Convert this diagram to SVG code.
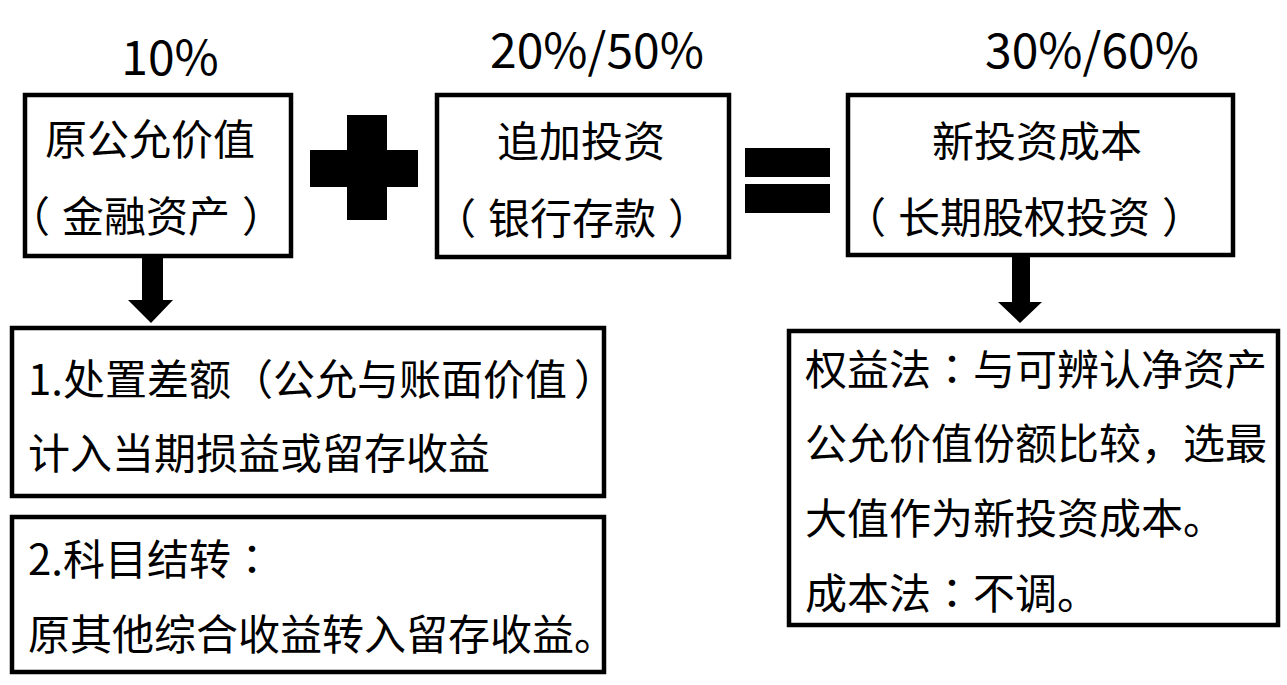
<svg xmlns="http://www.w3.org/2000/svg" width="1287" height="685" viewBox="0 0 1287 685">
  <style>
    .box { fill: #ffffff; stroke: #000000; stroke-width: 4.5; }
    .t { font-family: "Noto Sans CJK SC", "Liberation Sans", sans-serif; font-size: 42px; fill: #000000; }
    .p { font-family: "Noto Sans CJK TC", "Noto Sans CJK SC", sans-serif; }
    .c { text-anchor: middle; }
    .pct { font-family: "Noto Sans CJK SC", "Liberation Sans", sans-serif; font-size: 48px; fill: #000000; text-anchor: middle; }
    .solid { fill: #000000; }
  </style>
  <rect x="0" y="0" width="1287" height="685" fill="#ffffff"/>

  <g id="labels">
    <text class="pct" x="170" y="75">10%</text>
    <text class="pct" x="597" y="68">20%/50%</text>
    <text class="pct" x="1092" y="68">30%/60%</text>
  </g>

  <g id="node-original">
    <rect class="box" x="25" y="95" width="266" height="161"/>
    <text class="t c" x="150" y="155">原公允价值</text>
    <text class="t c" x="158" y="232"><tspan dx="-12">（</tspan><tspan dx="12">金融资产</tspan><tspan dx="12">）</tspan></text>
  </g>

  <g id="op-plus">
    <rect class="solid" x="347" y="115" width="40" height="105"/>
    <rect class="solid" x="310" y="150" width="108" height="37"/>
  </g>

  <g id="node-additional">
    <rect class="box" x="437" y="95" width="292" height="162"/>
    <text class="t c" x="581" y="157">追加投资</text>
    <text class="t c" x="584" y="234"><tspan dx="-12">（</tspan><tspan dx="12">银行存款</tspan><tspan dx="12">）</tspan></text>
  </g>

  <g id="op-equals">
    <rect class="solid" x="745" y="148" width="85" height="29"/>
    <rect class="solid" x="745" y="184" width="85" height="29"/>
  </g>

  <g id="node-newcost">
    <rect class="box" x="848" y="95" width="385" height="160"/>
    <text class="t c" x="1037" y="157">新投资成本</text>
    <text class="t c" x="1036" y="233"><tspan dx="-12">（</tspan><tspan dx="12">长期股权投资</tspan><tspan dx="12">）</tspan></text>
  </g>

  <g id="node-disposal">
    <rect class="box" x="12" y="328" width="592" height="168"/>
    <text class="t" x="28" y="395">1.处置差额（公允与账面价值<tspan dx="7">）</tspan></text>
    <text class="t" x="28" y="469">计入当期损益或留存收益</text>
  </g>

  <g id="node-transfer">
    <rect class="box" x="12" y="517" width="592" height="155"/>
    <text class="t" x="28" y="575">2.科目结转<tspan class="p">：</tspan></text>
    <text class="t" x="28" y="650">原其他综合收益转入留存收益。</text>
  </g>

  <g id="node-method">
    <rect class="box" x="789" y="331" width="489" height="294"/>
    <text class="t" x="805" y="385">权益法<tspan class="p">：</tspan>与可辨认净资产</text>
    <text class="t" x="805" y="459">公允价值份额比较，选最</text>
    <text class="t" x="805" y="534">大值作为新投资成本。</text>
    <text class="t" x="805" y="609">成本法<tspan class="p">：</tspan>不调。</text>
  </g>

  <g id="connectors">
    <path class="solid" d="M142,256 L163,256 L163,300 L173,300 L151,323 L128,300 L142,300 Z"/>
    <path class="solid" d="M1012,255 L1030,255 L1030,302 L1042,302 L1020,323 L998,302 L1012,302 Z"/>
  </g>
</svg>
